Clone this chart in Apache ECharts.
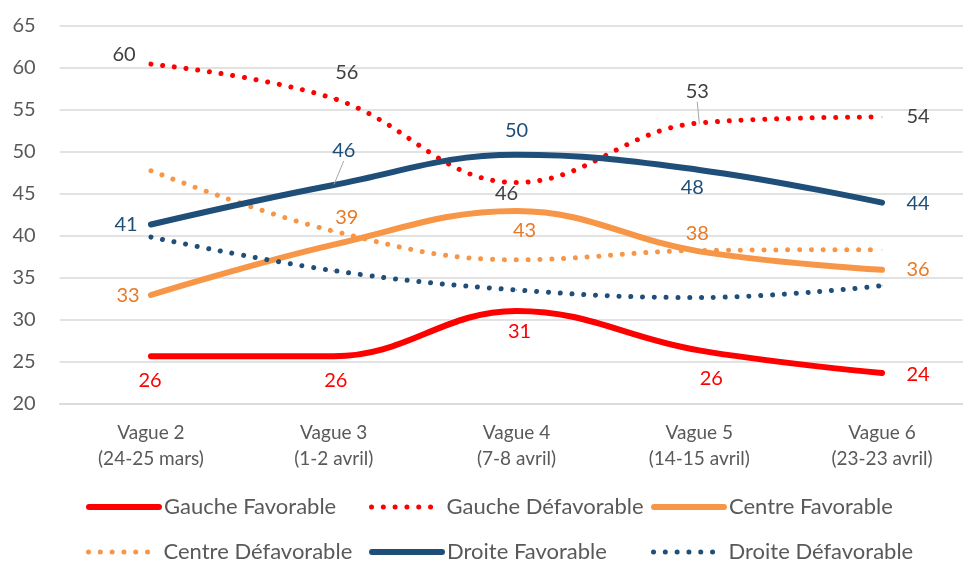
<html>
  <head>
    <meta charset="utf-8" />
    <script src="https://cdn.jsdelivr.net/npm/echarts@6/dist/echarts.min.js"></script>
  </head>
  <body>
    <style>
      html,
      body,
      #main {
        width: 100%;
        height: 100%;
        margin: 0;
        background: #fff;
      }
    </style>
    <div id="main"></div>
    <script>
      const categories = [
        "Vague 2\n(24-25 mars)",
        "Vague 3\n(1-2 avril)",
        "Vague 4\n(7-8 avril)",
        "Vague 5\n(14-15 avril)",
        "Vague 6\n(23-23 avril)",
      ];
      const yTicks = { min: 20, max: 65, step: 5 };

      const gaucheFavorable = [25.6, 25.6, 31.0, 26.3, 23.6];
      const gaucheDefavorable = [60.4, 56.3, 46.3, 53.4, 54.1];
      const centreFavorable = [32.9, 38.9, 42.9, 38.1, 35.9];
      const centreDefavorable = [47.7, 40.5, 37.1, 38.2, 38.3];
      const droiteFavorable = [41.3, 46.0, 49.6, 47.8, 43.9];
      const droiteDefavorable = [39.8, 35.8, 33.5, 32.6, 34.0];

      // where each value label sits, relative to its point (px)
      const offsGF = [[-1, 24], [2, 24], [3, 21], [12, 28], [36, 1]];
      const offsGD = [[-27, -10], [13, -26], [-10, 11], [-2, -31], [36, 0]];
      const offsCF = [[-23, 1], [13, -27], [8, 20], [-2, -18], [36, 0]];
      const offsDF = [[-25, 0], [10, -34], [0, -24], [-7, 18], [36, 1]];

      const FONT = "Lato";
      const RED = "#FF0000";
      const ORANGE = "#F79646";
      const BLUE = "#1F4E79";
      const DOTS = [0.01, 11.8];

      function makeSeries(name, values, color, dotted, labelColor, offs, leaders) {
        const s = {
          name: name,
          type: "line",
          smooth: 0.4,
          symbol: "circle",
          symbolSize: 1,
          itemStyle: { color: color },
          lineStyle: {
            color: color,
            width: dotted ? 5 : 6,
            type: dotted ? DOTS : "solid",
            cap: "round",
          },
          emphasis: { disabled: true },
          data: values.map(function (v, i) {
            if (leaders && leaders.indexOf(i) >= 0) {
              return {
                value: v,
                labelLine: { show: true, lineStyle: { color: "#A6A6A6", width: 1 } },
              };
            }
            return v;
          }),
        };
        if (labelColor) {
          s.label = {
            show: true,
            position: "inside",
            fontFamily: FONT,
            fontSize: 20,
            color: labelColor,
            formatter: function (p) {
              return Math.round(p.value);
            },
          };
          s.labelLayout = function (p) {
            const o = offs[p.dataIndex];
            return { dx: o[0], dy: o[1] };
          };
        } else {
          s.label = { show: false };
        }
        return s;
      }

      const series = [
        makeSeries("Gauche Favorable", gaucheFavorable, RED, false, RED, offsGF),
        makeSeries("Gauche Défavorable", gaucheDefavorable, RED, true, "#404040", offsGD, [3]),
        makeSeries("Centre Favorable", centreFavorable, ORANGE, false, "#E97A25", offsCF),
        makeSeries("Centre Défavorable", centreDefavorable, ORANGE, true, null, null),
        makeSeries("Droite Favorable", droiteFavorable, BLUE, false, BLUE, offsDF, [1]),
        makeSeries("Droite Défavorable", droiteDefavorable, BLUE, true, null, null),
      ];

      const legendCols = [86, 369, 651];
      const legendRows = [496, 541];
      const legends = series.map(function (s, i) {
        const dotted = s.lineStyle.type !== "solid";
        return {
          data: [s.name],
          left: legendCols[i % 3],
          top: legendRows[Math.floor(i / 3)],
          padding: 0,
          itemWidth: 70,
          itemHeight: 14,
          itemGap: 0,
          selectedMode: false,
          textStyle: { fontFamily: FONT, fontSize: 22, color: "#595959" },
          itemStyle: { opacity: 0 },
          lineStyle: {
            width: dotted ? 5 : 6,
            type: dotted ? DOTS : "solid",
            cap: "round",
          },
        };
      });

      var chart = echarts.init(document.getElementById("main"));

      var option = {
        animation: false,
        grid: {
          left: 59.6,
          right: -10.4,
          top: 25.5,
          bottom: 159.7,
          outerBoundsMode: "none",
        },
        legend: legends,
        xAxis: {
          type: "category",
          data: categories,
          boundaryGap: true,
          axisLine: { show: true, lineStyle: { color: "#D9D9D9", width: 1.5 } },
          axisTick: { show: false },
          axisLabel: {
            fontFamily: FONT,
            fontSize: 19,
            lineHeight: 25.6,
            color: "#595959",
            margin: 17,
          },
        },
        yAxis: {
          type: "value",
          min: yTicks.min,
          max: yTicks.max,
          interval: yTicks.step,
          axisLine: { show: false },
          axisTick: { show: false },
          axisLabel: {
            fontFamily: FONT,
            fontSize: 20,
            color: "#595959",
            margin: 24,
          },
          splitLine: { lineStyle: { color: "#D9D9D9", width: 1.5 } },
        },
        series: series,
      };

      chart.setOption(option);
      window.onresize = chart.resize;
    </script>
  </body>
</html>
